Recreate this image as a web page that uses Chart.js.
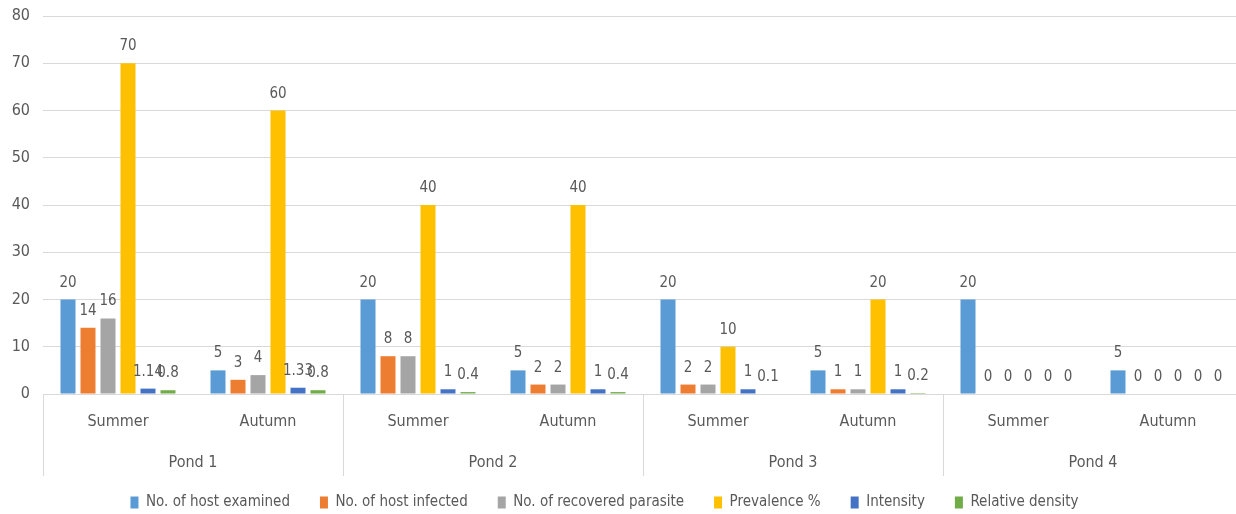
<!DOCTYPE html>
<html>
<head>
<meta charset="utf-8">
<title>Parasite infection by pond and season</title>
<script src="https://cdn.jsdelivr.net/npm/chart.js@4.4.1/dist/chart.umd.min.js"></script>
<style>
  html, body { margin: 0; padding: 0; background: #ffffff; overflow: hidden; }
  #wrap { width: 1243px; height: 514px; position: relative; }
</style>
</head>
<body>
<div id="wrap"><canvas id="chart"></canvas></div>
<script>
// Categories: each pond sampled in two seasons
const seasons = ['Summer', 'Autumn', 'Summer', 'Autumn', 'Summer', 'Autumn', 'Summer', 'Autumn'];
const ponds = ['Pond 1', 'Pond 2', 'Pond 3', 'Pond 4'];

// Series values, one entry per pond/season
const hostExamined      = [20, 5, 20, 5, 20, 5, 20, 5];
const hostInfected      = [14, 3, 8, 2, 2, 1, 0, 0];
const recoveredParasite = [16, 4, 8, 2, 2, 1, 0, 0];
const prevalence        = [70, 60, 40, 40, 10, 20, 0, 0];
const intensity         = [1.14, 1.33, 1, 1, 1, 1, 0, 0];
const relativeDensity   = [0.8, 0.8, 0.4, 0.4, 0.1, 0.2, 0, 0];

// Value axis ticks
const yTicks = [0, 10, 20, 30, 40, 50, 60, 70, 80];

const FONT = "'Liberation Sans Narrow', 'DejaVu Sans Condensed', 'Liberation Sans', sans-serif";
const TEXT = '#595959';
const GRID = '#d9d9d9';

Chart.defaults.font.family = FONT;
Chart.defaults.color = TEXT;

// Writes each bar's value just above it
const valueLabels = {
  id: 'valueLabels',
  afterDatasetsDraw(chart) {
    const ctx = chart.ctx;
    ctx.save();
    ctx.font = '15px ' + FONT;
    ctx.fillStyle = TEXT;
    ctx.textAlign = 'center';
    ctx.textBaseline = 'alphabetic';
    chart.data.datasets.forEach((ds, di) => {
      const meta = chart.getDatasetMeta(di);
      if (meta.hidden) return;
      meta.data.forEach((bar, i) => {
        const v = ds.data[i];
        if (v === null || v === undefined) return;
        ctx.fillText(String(v), bar.x, bar.y - 13);
      });
    });
    ctx.restore();
  }
};

// Nudges the legend row a little to the left of the canvas centre
const legendShift = {
  id: 'legendShift',
  afterLayout(chart) {
    if (chart.legend) chart.legend.right -= 34;
  }
};

const series = [
  ['No. of host examined', hostExamined, '#5B9BD5'],
  ['No. of host infected', hostInfected, '#ED7D31'],
  ['No. of recovered parasite', recoveredParasite, '#A5A5A5'],
  ['Prevalence %', prevalence, '#FFC000'],
  ['Intensity', intensity, '#4472C4'],
  ['Relative density', relativeDensity, '#70AD47']
];

new Chart(document.getElementById('chart'), {
  type: 'bar',
  data: {
    labels: seasons,
    datasets: series.map(([label, data, color]) => ({
      label, data,
      backgroundColor: color,
      borderWidth: 0,
      categoryPercentage: 0.8,
      barPercentage: 0.75
    }))
  },
  options: {
    responsive: true,
    maintainAspectRatio: false,
    animation: false,
    layout: { padding: { top: 16, right: 0, bottom: -6, left: 0 } },
    plugins: {
      tooltip: { enabled: false },
      legend: {
        position: 'bottom',
        labels: {
          boxWidth: 8,
          boxHeight: 12,
          padding: 30,
          color: TEXT,
          font: { size: 15, family: FONT }
        }
      }
    },
    scales: {
      x: {
        type: 'category',
        position: 'bottom',
        offset: true,
        grid: {
          offset: true,
          drawOnChartArea: false,
          drawTicks: true,
          tickLength: 47,
          color: ctx => (ctx.index !== undefined && ctx.index % 2 === 0) ? GRID : 'rgba(0,0,0,0)'
        },
        border: { display: true, color: GRID },
        ticks: {
          padding: -29,
          color: TEXT,
          font: { size: 16, family: FONT },
          maxRotation: 0,
          autoSkip: false
        },
        afterFit: s => { s.height = 47; }
      },
      x2: {
        type: 'category',
        position: 'bottom',
        labels: ponds,
        offset: true,
        grid: {
          offset: true,
          drawOnChartArea: false,
          drawTicks: true,
          tickLength: 35,
          color: GRID
        },
        border: { display: false },
        ticks: {
          mirror: true,
          padding: -31,
          color: TEXT,
          font: { size: 16, family: FONT },
          maxRotation: 0,
          autoSkip: false
        },
        afterFit: s => { s.height = 24; }
      },
      y: {
        min: 0,
        max: 80,
        afterBuildTicks: s => { s.ticks = yTicks.map(v => ({ value: v })); },
        grid: { color: GRID, drawTicks: false },
        border: { display: false },
        ticks: {
          padding: 13,
          color: TEXT,
          font: { size: 16, family: FONT }
        },
        afterFit: s => {
          s.width = 43;
          s.paddingTop = 0;
          s.paddingBottom = 0;
        }
      }
    }
  },
  plugins: [valueLabels, legendShift]
});
</script>
</body>
</html>
